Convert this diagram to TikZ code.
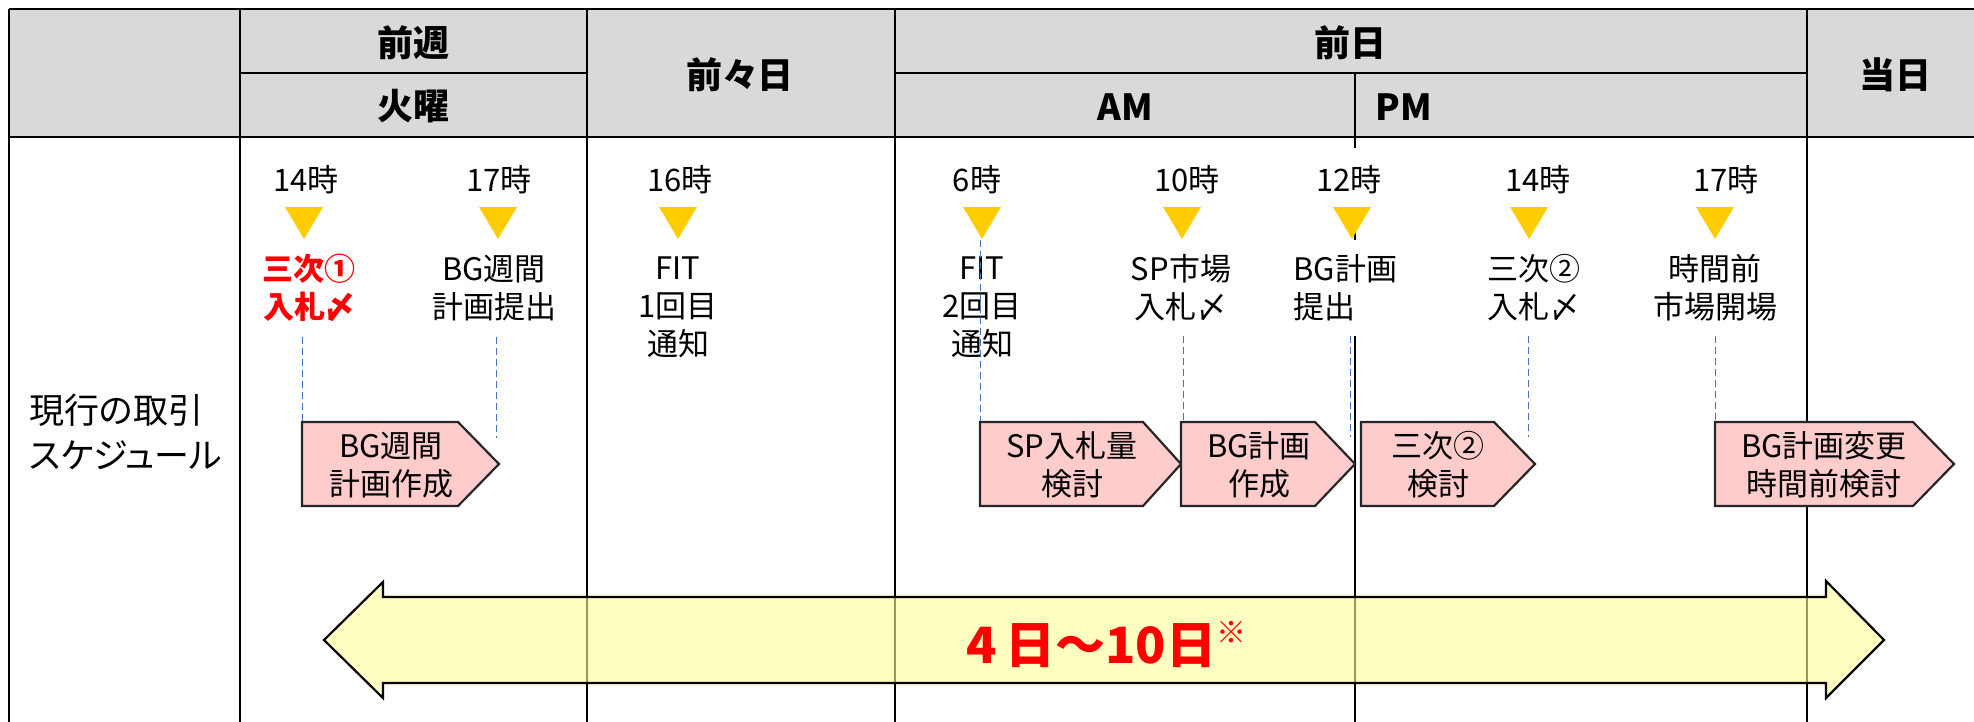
\documentclass[tikz,border=0pt]{standalone}
\usepackage{fontspec}
\setmainfont{Noto Sans CJK JP}[RawFeature=+palt]
\newfontfamily\plainjp{Noto Sans CJK JP}
\definecolor{hdrgray}{HTML}{D9D9D9}
\definecolor{triyellow}{HTML}{FFCC00}
\definecolor{pinkfill}{HTML}{FFCCCC}
\definecolor{dashblue}{HTML}{4472C4}
\definecolor{arrowyellow}{HTML}{FFFF99}
\definecolor{redtext}{HTML}{FF0000}
\tikzset{
  tline/.style={line width=1.15pt, black},
  dline/.style={draw=dashblue, line width=0.5pt, dash pattern=on 3.5pt off 2pt},
  pentbox/.style={fill=pinkfill, draw=black!85, line width=1.1pt, line join=miter},
  tribox/.style={fill=triyellow},
  lbl/.style={font=\fontsize{15.5}{19}\selectfont, align=center, inner sep=0pt},
  hdr/.style={font=\fontsize{18}{18}\selectfont\bfseries, inner sep=0pt},
  bigarrow/.style={fill=arrowyellow, fill opacity=0.6, draw=black, line width=1.1pt, line join=miter}
}
\begin{document}
\begin{tikzpicture}[x=0.5pt,y=-0.5pt]
\useasboundingbox (0,0) rectangle (1974,722);
% header background
\fill[hdrgray] (9,9) rectangle (1974,137);
% table lines
\draw[tline] (9,9) -- (1974,9);
\draw[tline] (9,137) -- (1974,137);
\draw[tline] (240,73) -- (587,73);
\draw[tline] (895,73) -- (1807,73);
\draw[tline] (9,9) -- (9,722);
\draw[tline] (240,9) -- (240,722);
\draw[tline] (587,9) -- (587,722);
\draw[tline] (895,9) -- (895,722);
\draw[tline] (1807,9) -- (1807,722);
\draw[tline] (1355,73) -- (1355,148);
\draw[tline] (1355,230) -- (1355,240);
\draw[tline] (1355,336) -- (1355,722);
% header texts
\node[hdr] (zenshu) at (413,43) {前週};
\node[hdr] (kayo) at (413,106) {火曜};
\node[hdr] (zenzen) at (740,75) {前々日};
\node[hdr] (zenjitsu) at (1350,43) {前日};
\node[hdr] (am) at (1125,107) {AM};
\node[hdr, anchor=west] (pm) at (1375,107) {PM};
\node[hdr] (tojitsu) at (1895,75) {当日};
% row label
\node[font=\fontsize{17.5}{22.5}\selectfont, align=left, inner sep=0pt, anchor=west] (rowlbl) at (29,432) {現行の取引\\スケジュール};
% big double arrow
\draw[bigarrow] (324,640) -- (383,582) -- (383,597) -- (1826,597) -- (1826,581) -- (1884,640) -- (1826,698) -- (1826,683) -- (383,683) -- (383,698) -- cycle;
\node[anchor=base west, inner sep=0pt, text=redtext, font=\plainjp\fontsize{25}{25}\selectfont\bfseries] (span) at (966,663) {4\,日～10日\raisebox{0.4em}{\fontsize{15}{15}\selectfont ※}};
% triangles
\foreach \cx in {304,498,678,982,1182,1352,1529,1715}{
  \fill[tribox] (\cx-19,207) -- (\cx+19,207) -- (\cx,239) -- cycle;
}
% time labels
\node[lbl] (t1) at (306,180) {14時};
\node[lbl] (t2) at (499,180) {17時};
\node[lbl] (t3) at (680,180) {16時};
\node[lbl] (t4) at (977,180) {6時};
\node[lbl] (t5) at (1187,180) {10時};
\node[lbl] (t6) at (1349,180) {12時};
\node[lbl] (t7) at (1538,180) {14時};
\node[lbl] (t8) at (1726,180) {17時};
% event labels
\node[lbl, text=redtext, font=\fontsize{15.5}{19}\selectfont\bfseries] (e1) at (309,288) {三次①\\入札〆};
\node[lbl] (e2) at (494,288) {BG週間\\計画提出};
\node[lbl] (e3) at (678,307) {FIT\\1回目\\通知};
\node[lbl] (e4) at (982,307) {FIT\\2回目\\通知};
\node[lbl] (e5) at (1181,288) {SP市場\\入札〆};
\node[lbl, align=left, anchor=west] (e6) at (1293,288) {BG計画\\提出};
\node[lbl] (e7) at (1534,288) {三次②\\入札〆};
\node[lbl] (e8) at (1715,288) {時間前\\市場開場};
% dashed guide lines
\coordinate (d1a) at (302,337); \coordinate (d1b) at (302,421);
\coordinate (d2a) at (496,337); \coordinate (d2b) at (496,438);
\coordinate (d3a) at (980,240); \coordinate (d3b) at (980,421);
\coordinate (d4a) at (1183,336); \coordinate (d4b) at (1183,421);
\coordinate (d5a) at (1350,336); \coordinate (d5b) at (1350,437);
\coordinate (d6a) at (1528,336); \coordinate (d6b) at (1528,437);
\coordinate (d7a) at (1715,336); \coordinate (d7b) at (1715,421);
\draw[dline] (d1a) -- (d1b);
\draw[dline] (d2a) -- (d2b);
\draw[dline] (d3a) -- (d3b);
\draw[dline] (d4a) -- (d4b);
\draw[dline] (d5a) -- (d5b);
\draw[dline] (d6a) -- (d6b);
\draw[dline] (d7a) -- (d7b);
% pentagon task boxes
\draw[pentbox] (302,422) -- (458,422) -- (499,464) -- (458,506) -- (302,506) -- cycle;
\draw[pentbox] (980,422) -- (1143,422) -- (1181,464) -- (1143,506) -- (980,506) -- cycle;
\draw[pentbox] (1181,422) -- (1315,422) -- (1355,464) -- (1315,506) -- (1181,506) -- cycle;
\draw[pentbox] (1361,422) -- (1494,422) -- (1535,464) -- (1494,506) -- (1361,506) -- cycle;
\draw[pentbox] (1715,422) -- (1913,422) -- (1954,464) -- (1913,506) -- (1715,506) -- cycle;
\node[lbl] (p1) at (391,465) {BG週間\\計画作成};
\node[lbl] (p2) at (1072,465) {SP入札量\\検討};
\node[lbl] (p3) at (1259,465) {BG計画\\作成};
\node[lbl] (p4) at (1438,465) {三次②\\検討};
\node[lbl] (p5) at (1824,465) {BG計画変更\\時間前検討};
\end{tikzpicture}
\end{document}
